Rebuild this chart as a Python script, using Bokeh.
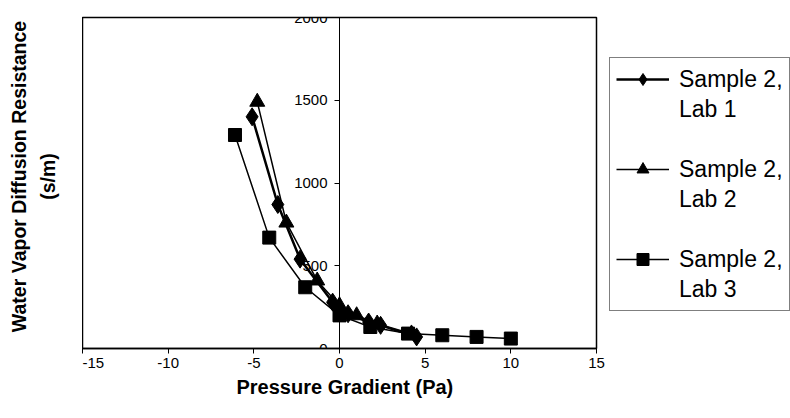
import math
from bokeh.plotting import figure
from bokeh.layouts import row
from bokeh.models import LinearAxis, Range1d, Legend, LegendItem, Title, FixedTicker, Label
from bokeh.embed import file_html
from bokeh.resources import INLINE

# Data
lab1_x = [-5.1, -3.6, -2.3, -0.4, 0.5, 1.7, 2.4, 4.5]
lab1_y = [1400, 870, 540, 280, 210, 160, 140, 70]
lab2_x = [-4.8, -3.1, -1.3, 0.0, 1.0, 2.2, 4.2]
lab2_y = [1490, 760, 410, 260, 200, 150, 90]
lab3_x = [-6.1, -4.1, -2.0, 0.0, 1.8, 4.0, 6.0, 8.0, 10.0]
lab3_y = [1290, 670, 370, 200, 130, 90, 80, 70, 60]

x_ticks = [-15, -10, -5, 0, 5, 10, 15]
y_ticks = [0, 500, 1000, 1500, 2000]

label_first = ["Sample 2,", "Sample 2,", "Sample 2,"]
label_second = ["Lab 1", "Lab 2", "Lab 3"]
y_title = ["Water Vapor Diffusion Resistance", "(s/m)"]
x_title = "Pressure Gradient (Pa)"

FONT = "Liberation Sans"
H = 410
TOP, BOTTOM = 17, 62          # borders around the plotting frame (frame height 331)

STYLES = [dict(marker="diamond", size=18, width=2.5),
          dict(marker="triangle", size=15, width=1.5),
          dict(marker="square", size=13, width=1.5)]
SERIES = [(lab1_x, lab1_y), (lab2_x, lab2_y), (lab3_x, lab3_y)]

# ---- left strip holding the y-axis title (pixel-based ranges) ----
p0 = figure(width=82, height=H, output_backend="svg", toolbar_location=None,
            x_range=Range1d(0, 82), y_range=Range1d(BOTTOM, H - TOP),
            x_axis_location=None, y_axis_location=None,
            min_border_left=0, min_border_right=0, min_border_top=TOP, min_border_bottom=BOTTOM)
p0.grid.visible = False
p0.outline_line_color = None
for xpos, txt in zip([18.5, 47], y_title):
    p0.add_layout(Label(x=xpos, y=H - 176, text=txt, angle=math.pi / 2,
                        text_align="center", text_baseline="middle", text_font=FONT,
                        text_font_size="19.5px", text_font_style="bold", text_color="black"))

# ---- main plot ----
p = figure(frame_width=514, frame_height=331, output_backend="svg", toolbar_location=None,
           x_range=Range1d(-15, 15), y_range=Range1d(0, 2000),
           y_axis_location=None,
           min_border_left=0, min_border_top=TOP, min_border_bottom=BOTTOM, min_border_right=10)
p.grid.visible = False
p.outline_line_color = "black"
p.outline_line_width = 1.5
p.background_fill_color = "white"
p.border_fill_color = "white"

xa = p.xaxis[0]
xa.ticker = FixedTicker(ticks=x_ticks)
xa.major_label_overrides = {t: str(t) for t in x_ticks}
xa.minor_tick_line_color = None
xa.major_tick_out = 5
xa.major_tick_in = 0
xa.axis_line_width = 1.5
xa.axis_line_color = "black"
xa.major_tick_line_color = "black"
xa.major_label_text_font = FONT
xa.major_label_text_font_size = "15px"
xa.major_label_text_color = "black"
xa.major_label_standoff = 4

p.add_layout(Title(text=x_title, align="left", text_font=FONT,
                   text_font_size="20px", text_font_style="bold", text_color="black",
                   standoff=6, offset=154), "below")

# y axis positioned at x = 0
ya = LinearAxis(fixed_location=0, ticker=FixedTicker(ticks=y_ticks))
ya.minor_tick_line_color = None
ya.major_tick_out = 5
ya.major_tick_in = 0
ya.axis_line_color = "black"
ya.major_tick_line_color = "black"
ya.major_label_text_font = FONT
ya.major_label_text_font_size = "15px"
ya.major_label_text_color = "black"
ya.major_label_standoff = 7
p.add_layout(ya, "left")

for (xs, ys), st in zip(SERIES, STYLES):
    p.line(xs, ys, line_color="black", line_width=st["width"])
    p.scatter(xs, ys, marker=st["marker"], size=st["size"], color="black")

# ---- right strip holding the legend ----
# same series drawn again, but entirely outside this strip's visible ranges,
# so only their legend glyphs show
p2 = figure(width=184, height=H, output_backend="svg", toolbar_location=None,
            x_range=Range1d(0, 1), y_range=Range1d(0, 1),
            x_axis_location=None, y_axis_location=None,
            min_border_left=0, min_border_right=0, min_border_top=TOP, min_border_bottom=BOTTOM)
p2.grid.visible = False
p2.outline_line_color = None
groups = []
for (xs, ys), st in zip(SERIES, STYLES):
    groups.append([p2.line(xs, ys, line_color="black", line_width=st["width"]),
                   p2.scatter(xs, ys, marker=st["marker"], size=st["size"], color="black")])
blank = p2.line(lab1_x, lab1_y, line_alpha=0)

items = []
for i, g in enumerate(groups):
    items.append(LegendItem(label=label_first[i], renderers=g))
    items.append(LegendItem(label=label_second[i], renderers=[blank]))
    if i < 2:
        items.append(LegendItem(label=" ", renderers=[blank]))

legend = Legend(items=items, location=(3, 37), margin=0, padding=6, spacing=0,
                glyph_width=53, glyph_height=30, label_standoff=10,
                label_text_font=FONT, label_text_font_size="23px",
                label_text_color="black", label_height=30,
                border_line_color="black", border_line_width=1,
                background_fill_alpha=1.0)
p2.add_layout(legend)

layout = row(p0, p, p2)
open("out.html", "w").write(file_html(layout, INLINE))
